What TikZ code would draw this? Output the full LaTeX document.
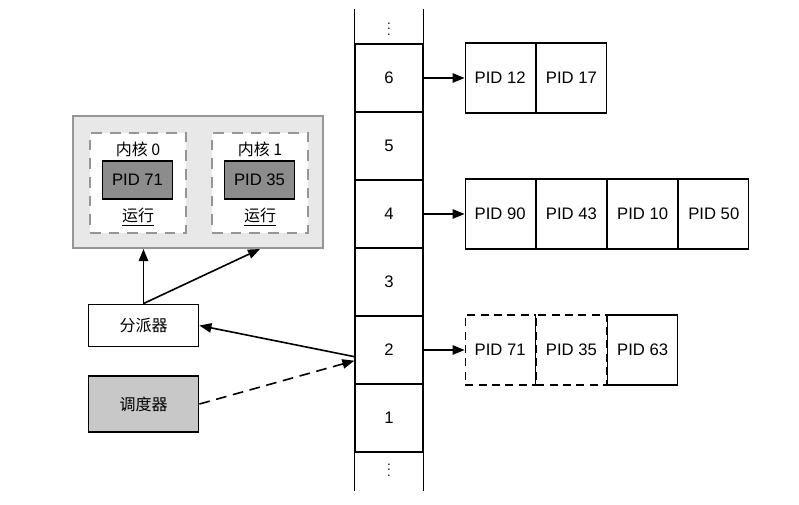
\documentclass[tikz,border=0pt]{standalone}
\usepackage{fontspec}
\setmainfont{Liberation Sans}
\newfontfamily\cjk{Noto Sans CJK SC}
\usetikzlibrary{arrows.meta, positioning}
\definecolor{framegray}{RGB}{150,150,150}
\definecolor{cpufill}{RGB}{232,232,232}
\definecolor{pidgray}{RGB}{140,140,140}
\definecolor{schedgray}{RGB}{200,200,200}

\begin{document}
\begin{tikzpicture}[
  x=0.75pt, y=-0.75pt,
  cell/.style={rectangle, draw, line width=0.9pt, minimum width=51pt, minimum height=51pt,
               inner sep=0pt, font=\fontsize{12.5}{14}\selectfont},
  pid/.style={rectangle, draw, line width=0.9pt, minimum width=52.5pt, minimum height=52.5pt,
              inner sep=0pt, font=\fontsize{12.5}{14}\selectfont},
  pidrun/.style={rectangle, draw, line width=0.9pt, fill=pidgray, minimum width=52pt,
                 minimum height=28.5pt, inner sep=0pt, font=\fontsize{12.5}{14}\selectfont},
  cpubox/.style={rectangle, draw=framegray, line width=1.5pt, fill=cpufill,
                 minimum width=187.5pt, minimum height=99pt},
  corebox/.style={rectangle, draw=framegray, line width=1.5pt, fill=white,
                  dash pattern=on 8pt off 6pt, minimum width=72pt, minimum height=75pt},
  unit/.style={rectangle, draw, line width=0.9pt, minimum width=83pt, inner sep=0pt,
               font=\cjk\fontsize{12}{14}\selectfont},
  cn/.style={font=\cjk\fontsize{12}{14}\selectfont, inner sep=1pt},
  line/.style={line width=0.9pt},
  dashbox/.style={dash pattern=on 6pt off 4pt},
  arrow/.style={-{Triangle[length=9pt,width=7pt]}, line width=1.2pt},
  dasharrow/.style={arrow, dash pattern=on 8pt off 5pt}
]
% --- run queue array ---
\foreach \n [count=\i from 0] in {6,5,4,3,2,1}
  \node[cell] (c\n) at (389,78+68*\i) {\n};
\draw[line] (c6.north west) -- ++(0,-34);
\draw[line] (c6.north east) -- ++(0,-34);
\draw[line] (c1.south west) -- ++(0,38);
\draw[line] (c1.south east) -- ++(0,38);
\node (topdots) at (389,25) {$\vdots$};
\node (botdots) at (389,466) {$\vdots$};

% --- process lists ---
\node[pid, right=30.75pt of c6] (p12) {PID 12};
\node[pid, right=0pt of p12] (p17) {PID 17};

\node[pid, right=30.75pt of c4] (p90) {PID 90};
\node[pid, right=0pt of p90] (p43) {PID 43};
\node[pid, right=0pt of p43] (p10) {PID 10};
\node[pid, right=0pt of p10] (p50) {PID 50};

\node[pid, dashbox, right=30.75pt of c2] (q71) {PID 71};
\node[pid, dashbox, right=0pt of q71] (q35) {PID 35};
\node[pid, right=0pt of q35] (q63) {PID 63};
\draw[line] (q71.north east) -- (q71.south east);

\draw[arrow] (c6) -- (p12);
\draw[arrow] (c4) -- (p90);
\draw[arrow] (c2) -- (q71);

% --- CPU with two cores ---
\node[cpubox] (cpu) at (198,182) {};
\node[corebox] (core0) at (138,183) {};
\node[corebox] (core1) at (260,183) {};
\node[cn] (k0) at (138,149) {内核 0};
\node[cn] (k1) at (260,149) {内核 1};
\node[pidrun] (r71) at (137.5,180) {PID 71};
\node[pidrun] (r35) at (259.5,180) {PID 35};
\node[cn] (run0) at (138,217) {\underline{运行}};
\node[cn] (run1) at (260,217) {\underline{运行}};

% --- dispatcher and scheduler ---
\node[unit, fill=white, minimum height=32pt] (disp) at (143.5,325.5) {分派器};
\node[unit, fill=schedgray, minimum height=42pt] (sched) at (143.5,404) {调度器};

\draw[arrow] (disp.north) -- (disp.north |- cpu.south);
\draw[arrow] (disp.north) -- (core1.south |- cpu.south);
\draw[arrow] ([yshift=-5pt]c2.west) -- (disp.east);
\draw[dasharrow] (sched.east) -- ([yshift=-8pt]c2.west);

\useasboundingbox (0,0) rectangle (799,504);
\end{tikzpicture}
\end{document}
